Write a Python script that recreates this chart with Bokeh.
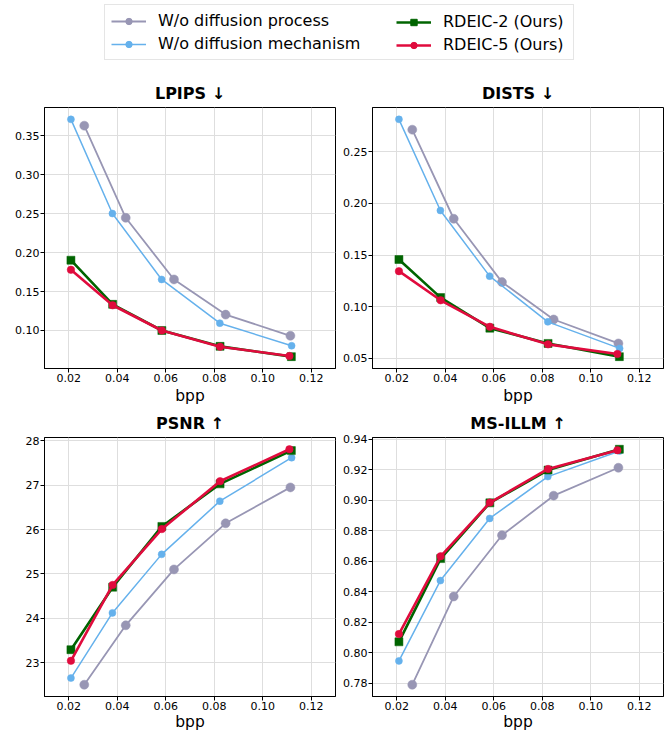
from bokeh.plotting import figure
from bokeh.layouts import column, row
from bokeh.models import (Range1d, FixedTicker, PrintfTickFormatter, Legend, LegendItem)
from bokeh.embed import file_html
from bokeh.resources import INLINE

# ---- data: bits per pixel per method ----
bpp_process = [0.0264, 0.0435, 0.0634, 0.0847, 0.1114]
bpp_mechanism = [0.0209, 0.0380, 0.0583, 0.0823, 0.1119]
bpp_rdeic2 = [0.0209, 0.0381, 0.0584, 0.0824, 0.1118]
bpp_rdeic5 = [0.0209, 0.0381, 0.0584, 0.0824, 0.1110]

lpips_process = [0.3632, 0.2448, 0.1656, 0.1204, 0.0932]
lpips_mechanism = [0.3713, 0.2503, 0.1656, 0.1094, 0.0804]
lpips_rdeic2 = [0.1903, 0.1336, 0.1000, 0.0796, 0.0664]
lpips_rdeic5 = [0.1780, 0.1324, 0.1000, 0.0791, 0.0672]

dists_process = [0.2715, 0.1852, 0.1238, 0.0876, 0.0644]
dists_mechanism = [0.2815, 0.1932, 0.1296, 0.0853, 0.0596]
dists_rdeic2 = [0.1457, 0.1088, 0.0792, 0.0644, 0.0516]
dists_rdeic5 = [0.1344, 0.1062, 0.0805, 0.0635, 0.0542]

psnr_process = [22.50, 23.84, 25.10, 26.14, 26.95]
psnr_mechanism = [22.65, 24.12, 25.44, 26.64, 27.62]
psnr_rdeic2 = [23.29, 24.70, 26.07, 27.03, 27.78]
psnr_rdeic5 = [23.04, 24.75, 26.01, 27.09, 27.81]

msillm_process = [0.7791, 0.8369, 0.8770, 0.9029, 0.9212]
msillm_mechanism = [0.7947, 0.8473, 0.8880, 0.9154, 0.9322]
msillm_rdeic2 = [0.8072, 0.8617, 0.8982, 0.9197, 0.9333]
msillm_rdeic5 = [0.8123, 0.8632, 0.8984, 0.9204, 0.9327]

x_ticks = [0.02, 0.04, 0.06, 0.08, 0.10, 0.12]
lpips_ticks = [0.10, 0.15, 0.20, 0.25, 0.30, 0.35]
dists_ticks = [0.05, 0.10, 0.15, 0.20, 0.25]
psnr_ticks = [23, 24, 25, 26, 27, 28]
msillm_ticks = [0.78, 0.80, 0.82, 0.84, 0.86, 0.88, 0.90, 0.92, 0.94]

labels = ["W/o diffusion process", "W/o diffusion mechanism",
          "RDEIC-2 (Ours)", "RDEIC-5 (Ours)"]

FONT = "DejaVu Sans"
styles = [
    dict(color="#9896b4", lw=1.8, marker="circle", size=9),
    dict(color="#65b1ec", lw=1.5, marker="circle", size=7),
    dict(color="#006400", lw=2.6, marker="square", size=8),
    dict(color="#e00b3d", lw=2.6, marker="circle", size=7.5),
]


def padded(*series):
    lo = min(min(s) for s in series)
    hi = max(max(s) for s in series)
    pad = 0.05 * (hi - lo)
    return Range1d(lo - pad, hi + pad)


def panel(title, ys, ticks, fmt, width, height, left, right, top, bottom, label_standoff):
    p = figure(width=width, height=height, output_backend="svg", toolbar_location=None,
               x_range=Range1d(0.01, 0.13), y_range=padded(*ys),
               min_border_left=left, min_border_right=right,
               min_border_top=top, min_border_bottom=bottom)
    p.title.text = title
    p.title.align = "center"
    p.title.text_font = FONT
    p.title.text_font_size = "16px"
    p.title.text_font_style = "bold"
    p.title.text_color = "black"
    p.title.standoff = 9
    p.outline_line_color = "black"
    p.outline_line_width = 1
    p.background_fill_color = "white"
    p.border_fill_color = "white"

    p.xaxis.ticker = FixedTicker(ticks=x_ticks)
    p.xaxis.formatter = PrintfTickFormatter(format="%.2f")
    p.yaxis.ticker = FixedTicker(ticks=ticks)
    p.yaxis.formatter = PrintfTickFormatter(format=fmt)
    p.xaxis.axis_label = "bpp"
    p.xaxis.axis_label_text_font = FONT
    p.xaxis.axis_label_text_font_size = "15.5px"
    p.xaxis.axis_label_text_font_style = "normal"
    p.xaxis.axis_label_text_color = "black"
    p.xaxis.axis_label_standoff = label_standoff
    for ax in (p.xaxis, p.yaxis):
        ax.major_label_text_font = FONT
        ax.major_label_text_font_size = "11px"
        ax.major_label_text_color = "black"
        ax.major_label_standoff = 1
        ax.major_tick_in = 0
        ax.major_tick_out = 4
        ax.minor_tick_line_color = None
        ax.axis_line_color = "black"
        ax.major_tick_line_color = "black"
    p.grid.grid_line_color = "#dedede"
    p.grid.grid_line_width = 1

    xs = [bpp_process, bpp_mechanism, bpp_rdeic2, bpp_rdeic5]
    for x, y, st in zip(xs, ys, styles):
        p.line(x, y, line_color=st["color"], line_width=st["lw"], line_join="round")
        p.scatter(x, y, marker=st["marker"], size=st["size"],
                  fill_color=st["color"], line_color=st["color"], line_width=0.5)
    return p


f1 = panel("LPIPS ↓", [lpips_process, lpips_mechanism, lpips_rdeic2, lpips_rdeic5],
           lpips_ticks, "%.2f", 338, 332, 44, 3, 32, 38, 2)
f2 = panel("DISTS ↓", [dists_process, dists_mechanism, dists_rdeic2, dists_rdeic5],
           dists_ticks, "%.2f", 326, 332, 34, 1, 32, 38, 2)
f3 = panel("PSNR ↑", [psnr_process, psnr_mechanism, psnr_rdeic2, psnr_rdeic5],
           psnr_ticks, "%d", 338, 326, 44, 3, 28, 36, 0)
f4 = panel("MS-ILLM ↑", [msillm_process, msillm_mechanism, msillm_rdeic2, msillm_rdeic5],
           msillm_ticks, "%.2f", 326, 326, 34, 1, 28, 36, 0)

# ---- shared legend strip ----
lg = figure(width=664, height=75, output_backend="svg", toolbar_location=None,
            x_range=Range1d(0, 1), y_range=Range1d(0, 1),
            min_border_left=0, min_border_right=0, min_border_top=0, min_border_bottom=0)
lg.axis.visible = False
lg.grid.visible = False
lg.outline_line_color = None
lg.border_fill_color = "white"

# placeholder glyphs kept outside the visible range; they only feed the legend
items = []
for name, st in zip(labels, styles):
    ln = lg.line([-5, -4], [-5, -4], line_color=st["color"], line_width=st["lw"])
    sc = lg.scatter([-5], [-5], marker=st["marker"], size=st["size"] - 1,
                    fill_color=st["color"], line_color=st["color"])
    items.append(LegendItem(label=name, renderers=[ln, sc]))


def make_legend(its, x, y, framed, label_width):
    leg = Legend(items=its, location=(x, y), orientation="vertical",
                 padding=6, margin=0, spacing=4, glyph_width=35, glyph_height=16,
                 label_height=16, label_standoff=12, label_width=label_width,
                 label_text_font=FONT, label_text_font_size="16px",
                 label_text_color="black")
    if framed:
        leg.border_line_color = "#cccccc"
        leg.border_line_width = 1
        leg.background_fill_color = "white"
        leg.background_fill_alpha = 0.8
    else:
        leg.border_line_alpha = 0
        leg.background_fill_alpha = 0
    return leg


lg.add_layout(make_legend(items[:2], 104, 15, True, 409))
lg.add_layout(make_legend(items[2:], 390, 15, False, 100))

layout = column(lg, row(f1, f2), row(f3, f4))
open("out.html", "w").write(file_html(layout, INLINE))
